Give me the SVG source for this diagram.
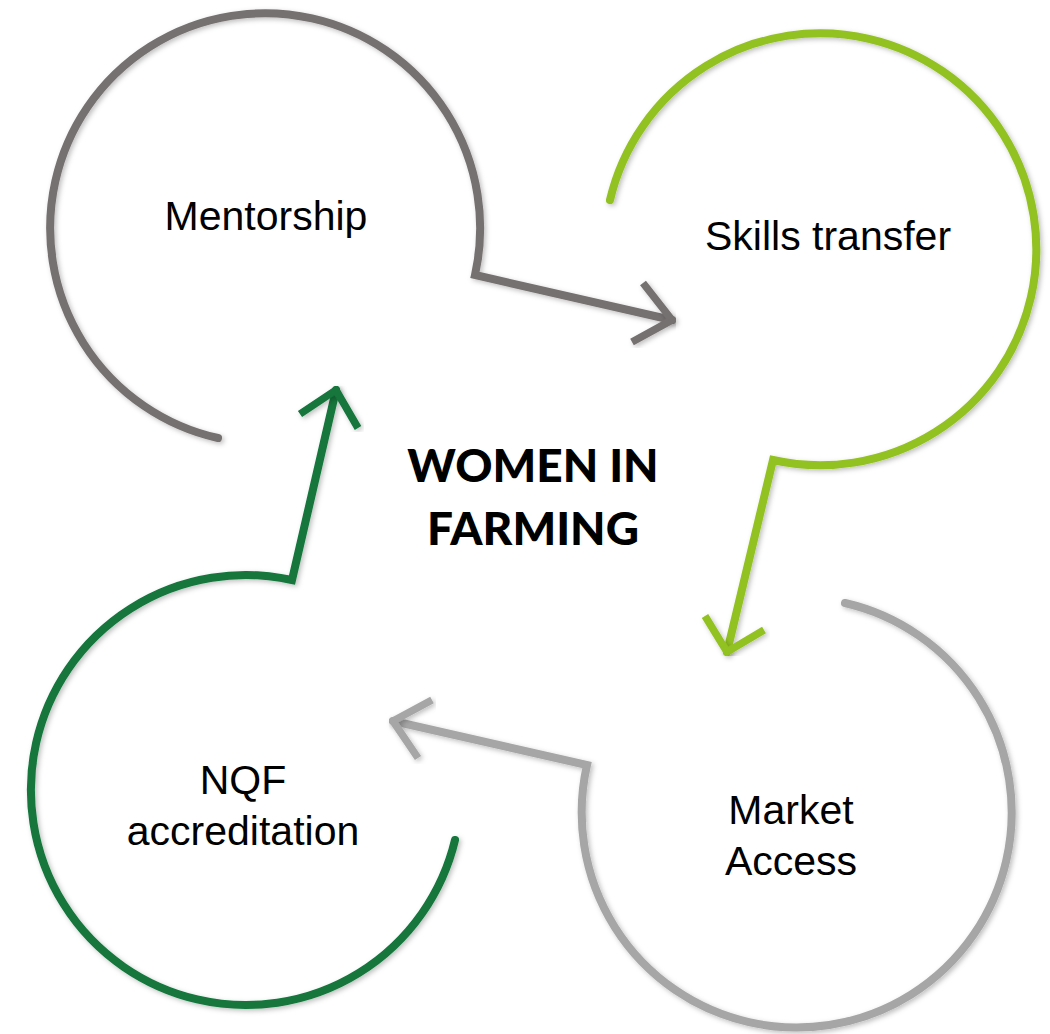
<svg xmlns="http://www.w3.org/2000/svg" width="1050" height="1034" viewBox="0 0 1050 1034">
  <style>
    .ring { fill: none; stroke-width: 8; stroke-linecap: round; stroke-linejoin: miter; filter: url(#soft); }
    .head { fill: none; stroke-width: 7.5; stroke-linecap: butt; stroke-linejoin: miter; filter: url(#soft); }
    .label { font-family: "Liberation Sans", Arial, sans-serif; font-size: 41px; fill: #000; text-anchor: middle; }
    .title { font-family: Lato, "Noto Sans", sans-serif; font-weight: 900; font-size: 46px; fill: #000; text-anchor: middle; }
    .dgray { stroke: #767171; }
    .lgreen { stroke: #92C121; }
    .lgray { stroke: #A6A6A6; }
    .dgreen { stroke: #12763B; }
  </style>
  <defs>
    <filter id="soft" x="-10%" y="-10%" width="120%" height="120%">
      <feDropShadow dx="2" dy="2" stdDeviation="2.5" flood-color="#000" flood-opacity="0.25"/>
    </filter>
  </defs>
  <rect width="1050" height="1034" fill="#fff"/>

  <!-- Open rings, each ending in a line that leads to the next ring -->
  <g id="connectors">
    <g id="ring-mentorship">
      <path class="ring dgray" d="M218,438 A215,215 0 1 1 475,275 L672,320"/>
      <path class="head dgray" d="M643,283 L672,320 L632,342"/>
    </g>
    <g id="ring-skills">
      <path class="ring lgreen" d="M610,200 A216,216 0 1 1 773,460 L727,652"/>
      <path class="head lgreen" d="M705,616 L727,652 L764,630"/>
    </g>
    <g id="ring-market">
      <path class="ring lgray" d="M845,603 A215,215 0 1 1 587,765 L393,721"/>
      <path class="head lgray" d="M432,700 L393,721 L418,758"/>
    </g>
    <g id="ring-nqf">
      <path class="ring dgreen" d="M455,840 A215,215 0 1 1 292,580 L336,390"/>
      <path class="head dgreen" d="M300,414 L336,390 L358,428"/>
    </g>
  </g>

  <g id="node-mentorship">
    <text class="label" x="266" y="230">Mentorship</text>
  </g>
  <g id="node-skills">
    <text class="label" x="828" y="250">Skills transfer</text>
  </g>
  <g id="node-market">
    <text class="label" x="791" y="824">Market</text>
    <text class="label" x="791" y="875">Access</text>
  </g>
  <g id="node-nqf">
    <text class="label" x="243" y="794">NQF</text>
    <text class="label" x="243" y="845">accreditation</text>
  </g>
  <g id="node-center">
    <text class="title" x="533" y="482">WOMEN IN</text>
    <text class="title" x="533" y="545">FARMING</text>
  </g>
</svg>
